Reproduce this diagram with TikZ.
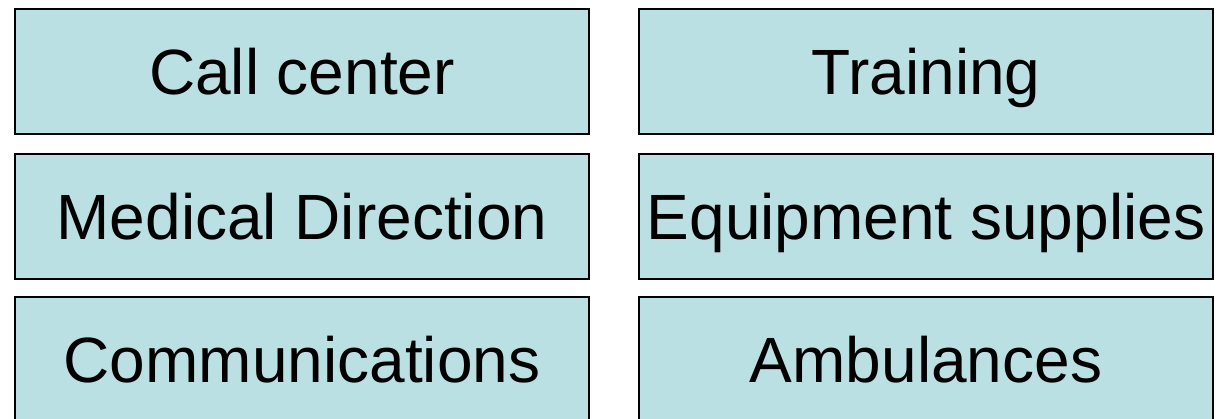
\documentclass[tikz,border=0pt]{standalone}
\usepackage{fontspec}
\setmainfont{Liberation Sans}
\definecolor{boxfill}{RGB}{187,224,227}
\begin{document}
\begin{tikzpicture}[x=0.75pt,y=-0.75pt,
  itembox/.style={draw=black, fill=boxfill, line width=1.5pt, rectangle,
    minimum width=430.5pt, minimum height=93.75pt, inner sep=0pt,
    text height=34.5pt, text depth=0pt,
    font=\fontsize{48}{58}\selectfont}]
\useasboundingbox (0,0) rectangle (1219,418);
\node[itembox] (call) at (302,71.5) {Call center};
\node[itembox] (train) at (926,71.5) {Training};
\node[itembox] (med) at (302,216.5) {Medical Direction};
\node[itembox] (equip) at (926,216.5) {Equipment supplies};
\node[itembox] (comm) at (302,359.5) {Communications};
\node[itembox] (amb) at (926,359.5) {Ambulances};
\end{tikzpicture}
\end{document}
